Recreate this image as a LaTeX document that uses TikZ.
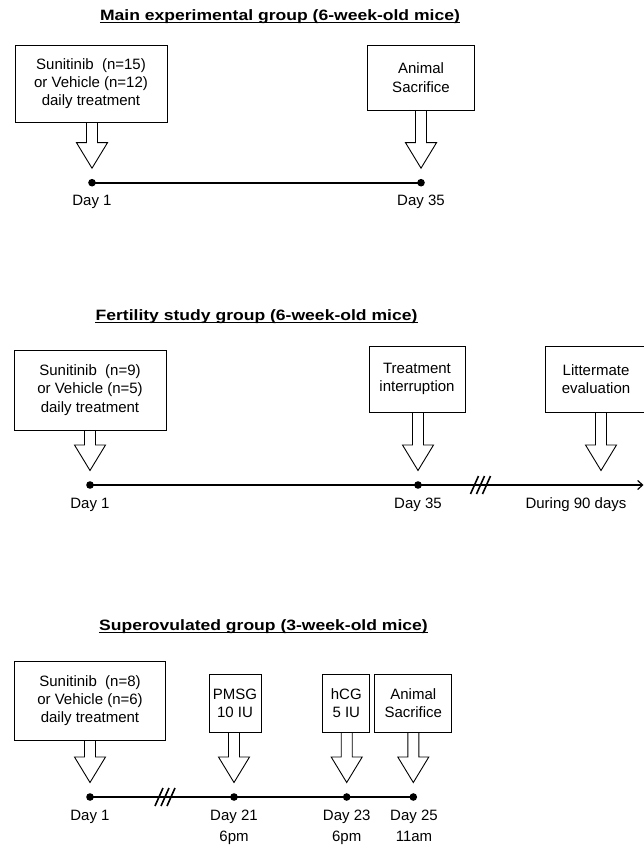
\documentclass[tikz,border=0pt]{standalone}
\usepackage{fontspec}
\setmainfont{Liberation Sans}
\newfontfamily\titlefont[FakeStretch=1.17]{Liberation Sans Bold}
\usetikzlibrary{calc,arrows.meta}
\newcommand\blockarrow[2]{%
  \draw[boxline] ($(#1.south -| #2)+(-5.5,0)$) -- ($(#2)+(-5.5,-40)$) -- ($(#2)+(-15.5,-40)$)
    -- ($(#2)+(0,-14.5)$) -- ($(#2)+(15.5,-40)$) -- ($(#2)+(5.5,-40)$) -- ($(#1.south -| #2)+(5.5,0)$);}
\newcommand\breakmark[1]{%
  \foreach \dx in {-6,0,6}{\draw[line width=1.6pt] ($(#1)+(\dx-4,9)$) -- ($(#1)+(\dx+4,-9)$);}}
\begin{document}
\begin{tikzpicture}[x=1pt,y=-1pt,
  every node/.style={font=\fontsize{15}{18.3}\selectfont, inner sep=0pt},
  boxline/.style={line width=0.9pt, draw=black},
  evbox/.style={draw=black, line width=0.9pt, align=center, fill=white},
  tline/.style={line width=1.6pt},
  daylabel/.style={anchor=base, align=center, font=\fontsize{15}{21}\selectfont},
  grouptitle/.style={anchor=base, font=\titlefont\fontsize{15}{18}\selectfont}]
\useasboundingbox (0,0) rectangle (644,845);
\clip (0,0) rectangle (644,845);

% ---------- Section 1 ----------
\node[grouptitle] (t1) at (280,20.7) {Main experimental group (6-week-old mice)};
\draw[line width=1.3pt] ([yshift=-2pt]t1.base west) -- ([yshift=-2pt]t1.base east);

\coordinate (s1a) at (92,182.7);
\coordinate (s1b) at (421,182.7);
\draw[tline] (s1a) -- (s1b);
\fill (s1a) circle[radius=3.8pt];
\fill (s1b) circle[radius=3.8pt];

\node[evbox, minimum width=152pt, minimum height=77pt] (b1a) at (91,83.5)
  {Sunitinib\ \ (n=15)\\or Vehicle (n=12)\\daily treatment};
\node[evbox, minimum width=107pt, minimum height=65pt] (b1b) at (421,77.5)
  {Animal\\Sacrifice};
\blockarrow{b1a}{s1a}
\blockarrow{b1b}{s1b}
\node[daylabel] (l1a) at (92,205.7) {Day 1};
\node[daylabel] (l1b) at (421,205.7) {Day 35};

% ---------- Section 2 ----------
\node[grouptitle] (t2) at (256.5,320.7) {Fertility study group (6-week-old mice)};
\draw[line width=1.3pt] ([yshift=-2pt]t2.base west) -- ([yshift=-2pt]t2.base east);

\coordinate (s2a) at (90,485);
\coordinate (s2b) at (418,485);
\coordinate (s2c) at (601,485);
\coordinate (s2end) at (643.5,485);
\coordinate (s2brk) at (480.5,485);
\draw[tline, -{Straight Barb[length=5pt,width=9pt,line width=1.2pt]}] (s2a) -- (s2end);
\fill (s2a) circle[radius=3.8pt];
\fill (s2b) circle[radius=3.8pt];
\breakmark{s2brk}

\node[evbox, minimum width=152pt, minimum height=80pt] (b2a) at (90,390)
  {Sunitinib\ \ (n=9)\\or Vehicle (n=5)\\daily treatment};
\node[evbox, minimum width=96pt, minimum height=66pt] (b2b) at (417,379)
  {Treatment\\interruption};
\node[evbox, minimum width=102pt, minimum height=66pt] (b2c) at (596,379)
  {Littermate\\evaluation};
\blockarrow{b2a}{s2a}
\blockarrow{b2b}{s2b}
\blockarrow{b2c}{s2c}
\node[daylabel] (l2a) at (90,508.5) {Day 1};
\node[daylabel] (l2b) at (418,508.5) {Day 35};
\node[daylabel] (l2c) at (576,508.5) {During 90 days};

% ---------- Section 3 ----------
\node[grouptitle] (t3) at (263.5,630.7) {Superovulated group (3-week-old mice)};
\draw[line width=1.3pt] ([yshift=-2pt]t3.base west) -- ([yshift=-2pt]t3.base east);

\coordinate (s3a) at (90,797);
\coordinate (s3b) at (234,797);
\coordinate (s3c) at (346.7,797);
\coordinate (s3d) at (413.3,797);
\coordinate (s3brk) at (165,797);
\draw[tline] (s3a) -- (s3d);
\foreach \p in {s3a,s3b,s3c,s3d}{\fill (\p) circle[radius=3.8pt];}
\breakmark{s3brk}

\node[evbox, minimum width=151pt, minimum height=79pt] (b3a) at (90,700.5)
  {Sunitinib\ \ (n=8)\\or Vehicle (n=6)\\daily treatment};
\node[evbox, minimum width=52pt, minimum height=58pt] (b3b) at (235,703)
  {PMSG\\10 IU};
\node[evbox, minimum width=47pt, minimum height=58pt] (b3c) at (346.3,703)
  {hCG\\5 IU};
\node[evbox, minimum width=77pt, minimum height=58pt] (b3d) at (413.3,703)
  {Animal\\Sacrifice};
\blockarrow{b3a}{s3a}
\blockarrow{b3b}{s3b}
\blockarrow{b3c}{s3c}
\blockarrow{b3d}{s3d}
\node[daylabel] (l3a) at (90,820) {Day 1};
\node[daylabel] (l3b) at (234,841) {Day 21\\6pm};
\node[daylabel] (l3c) at (346.7,841) {Day 23\\6pm};
\node[daylabel] (l3d) at (414,841) {Day 25\\11am};
\end{tikzpicture}
\end{document}
